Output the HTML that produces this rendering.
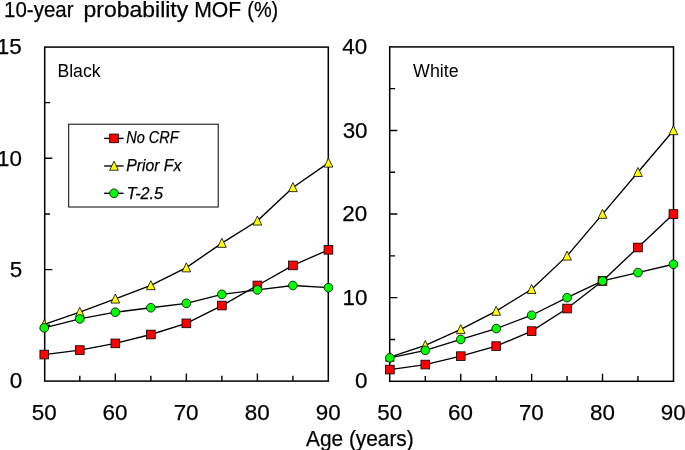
<!DOCTYPE html>
<html><head><meta charset="utf-8"><style>
html,body{margin:0;padding:0;background:#fff;width:685px;height:450px;overflow:hidden}
svg{display:block;will-change:transform}
text{font-family:"Liberation Sans", sans-serif;fill:#000;stroke:#000;stroke-width:0.25px}
</style></head><body>
<svg width="685" height="450" viewBox="0 0 685 450">
<rect x="44.7" y="47.1" width="283.6" height="334" fill="none" stroke="#000" stroke-width="1.5"/>
<path d="M44.7 325.29h5.4M44.7 269.63h7.6M44.7 213.97h5.4M44.7 158.32h7.6M44.7 102.66h5.4M79.8 381.1v-5.4M115.32 381.1v-7.6M150.84 381.1v-5.4M186.36 381.1v-7.6M221.88 381.1v-5.4M257.4 381.1v-7.6M292.92 381.1v-5.4" stroke="#000" stroke-width="1.4" fill="none"/>
<polyline points="44.28,354.56 79.8,350.1 115.32,343.41 150.84,334.5 186.36,323.35 221.88,305.53 257.4,285.47 292.92,265.41 328.44,249.81" fill="none" stroke="#000" stroke-width="1.35"/>
<polyline points="44.28,324.47 79.8,312.21 115.32,298.84 150.84,285.47 186.36,267.64 221.88,243.12 257.4,220.84 292.92,187.41 328.44,162.89" fill="none" stroke="#000" stroke-width="1.35"/>
<polyline points="44.28,327.81 79.8,318.9 115.32,312.21 150.84,307.75 186.36,303.3 221.88,294.38 257.4,289.92 292.92,285.47 328.44,287.7" fill="none" stroke="#000" stroke-width="1.35"/>
<rect x="39.93" y="350.21" width="8.7" height="8.7" fill="#ff0000" stroke="#000" stroke-width="0.8"/>
<rect x="75.45" y="345.75" width="8.7" height="8.7" fill="#ff0000" stroke="#000" stroke-width="0.8"/>
<rect x="110.97" y="339.06" width="8.7" height="8.7" fill="#ff0000" stroke="#000" stroke-width="0.8"/>
<rect x="146.49" y="330.15" width="8.7" height="8.7" fill="#ff0000" stroke="#000" stroke-width="0.8"/>
<rect x="182.01" y="319" width="8.7" height="8.7" fill="#ff0000" stroke="#000" stroke-width="0.8"/>
<rect x="217.53" y="301.18" width="8.7" height="8.7" fill="#ff0000" stroke="#000" stroke-width="0.8"/>
<rect x="253.05" y="281.12" width="8.7" height="8.7" fill="#ff0000" stroke="#000" stroke-width="0.8"/>
<rect x="288.57" y="261.06" width="8.7" height="8.7" fill="#ff0000" stroke="#000" stroke-width="0.8"/>
<rect x="324.09" y="245.46" width="8.7" height="8.7" fill="#ff0000" stroke="#000" stroke-width="0.8"/>
<path d="M44.28 319.64L48.63 328.69L39.93 328.69Z" fill="#ffff00" stroke="#000" stroke-width="0.8" stroke-linejoin="miter"/>
<path d="M79.8 307.39L84.15 316.44L75.45 316.44Z" fill="#ffff00" stroke="#000" stroke-width="0.8" stroke-linejoin="miter"/>
<path d="M115.32 294.02L119.67 303.06L110.97 303.06Z" fill="#ffff00" stroke="#000" stroke-width="0.8" stroke-linejoin="miter"/>
<path d="M150.84 280.64L155.19 289.69L146.49 289.69Z" fill="#ffff00" stroke="#000" stroke-width="0.8" stroke-linejoin="miter"/>
<path d="M186.36 262.81L190.71 271.86L182.01 271.86Z" fill="#ffff00" stroke="#000" stroke-width="0.8" stroke-linejoin="miter"/>
<path d="M221.88 238.3L226.23 247.35L217.53 247.35Z" fill="#ffff00" stroke="#000" stroke-width="0.8" stroke-linejoin="miter"/>
<path d="M257.4 216.01L261.75 225.06L253.05 225.06Z" fill="#ffff00" stroke="#000" stroke-width="0.8" stroke-linejoin="miter"/>
<path d="M292.92 182.58L297.27 191.63L288.57 191.63Z" fill="#ffff00" stroke="#000" stroke-width="0.8" stroke-linejoin="miter"/>
<path d="M328.44 158.07L332.79 167.11L324.09 167.11Z" fill="#ffff00" stroke="#000" stroke-width="0.8" stroke-linejoin="miter"/>
<circle cx="44.28" cy="327.81" r="4.35" fill="#00ff00" stroke="#000" stroke-width="0.8"/>
<circle cx="79.8" cy="318.9" r="4.35" fill="#00ff00" stroke="#000" stroke-width="0.8"/>
<circle cx="115.32" cy="312.21" r="4.35" fill="#00ff00" stroke="#000" stroke-width="0.8"/>
<circle cx="150.84" cy="307.75" r="4.35" fill="#00ff00" stroke="#000" stroke-width="0.8"/>
<circle cx="186.36" cy="303.3" r="4.35" fill="#00ff00" stroke="#000" stroke-width="0.8"/>
<circle cx="221.88" cy="294.38" r="4.35" fill="#00ff00" stroke="#000" stroke-width="0.8"/>
<circle cx="257.4" cy="289.92" r="4.35" fill="#00ff00" stroke="#000" stroke-width="0.8"/>
<circle cx="292.92" cy="285.47" r="4.35" fill="#00ff00" stroke="#000" stroke-width="0.8"/>
<circle cx="328.44" cy="287.7" r="4.35" fill="#00ff00" stroke="#000" stroke-width="0.8"/>
<rect x="389.7" y="46.9" width="283.8" height="334.4" fill="none" stroke="#000" stroke-width="1.5"/>
<path d="M389.7 339.47h5.4M389.7 297.67h7.6M389.7 255.87h5.4M389.7 214.07h7.6M389.7 172.27h5.4M389.7 130.47h7.6M389.7 88.67h5.4M425.3 381.3v-5.4M460.75 381.3v-7.6M496.19 381.3v-5.4M531.63 381.3v-7.6M567.07 381.3v-5.4M602.51 381.3v-7.6M637.96 381.3v-5.4" stroke="#000" stroke-width="1.4" fill="none"/>
<polyline points="389.86,369.57 425.3,364.55 460.75,356.19 496.19,346.16 531.63,331.11 567.07,308.54 602.51,280.95 637.96,247.51 673.4,214.07" fill="none" stroke="#000" stroke-width="1.35"/>
<polyline points="389.86,357.03 425.3,345.32 460.75,329.44 496.19,311.05 531.63,289.31 567.07,255.87 602.51,214.07 637.96,172.27 673.4,130.47" fill="none" stroke="#000" stroke-width="1.35"/>
<polyline points="389.86,357.86 425.3,350.34 460.75,339.47 496.19,328.6 531.63,315.23 567.07,297.67 602.51,280.95 637.96,272.59 673.4,264.23" fill="none" stroke="#000" stroke-width="1.35"/>
<rect x="385.51" y="365.22" width="8.7" height="8.7" fill="#ff0000" stroke="#000" stroke-width="0.8"/>
<rect x="420.95" y="360.2" width="8.7" height="8.7" fill="#ff0000" stroke="#000" stroke-width="0.8"/>
<rect x="456.39" y="351.84" width="8.7" height="8.7" fill="#ff0000" stroke="#000" stroke-width="0.8"/>
<rect x="491.84" y="341.81" width="8.7" height="8.7" fill="#ff0000" stroke="#000" stroke-width="0.8"/>
<rect x="527.28" y="326.76" width="8.7" height="8.7" fill="#ff0000" stroke="#000" stroke-width="0.8"/>
<rect x="562.72" y="304.19" width="8.7" height="8.7" fill="#ff0000" stroke="#000" stroke-width="0.8"/>
<rect x="598.16" y="276.6" width="8.7" height="8.7" fill="#ff0000" stroke="#000" stroke-width="0.8"/>
<rect x="633.61" y="243.16" width="8.7" height="8.7" fill="#ff0000" stroke="#000" stroke-width="0.8"/>
<rect x="669.05" y="209.72" width="8.7" height="8.7" fill="#ff0000" stroke="#000" stroke-width="0.8"/>
<path d="M389.86 352.2L394.21 361.25L385.51 361.25Z" fill="#ffff00" stroke="#000" stroke-width="0.8" stroke-linejoin="miter"/>
<path d="M425.3 340.5L429.65 349.55L420.95 349.55Z" fill="#ffff00" stroke="#000" stroke-width="0.8" stroke-linejoin="miter"/>
<path d="M460.75 324.61L465.1 333.66L456.39 333.66Z" fill="#ffff00" stroke="#000" stroke-width="0.8" stroke-linejoin="miter"/>
<path d="M496.19 306.22L500.54 315.27L491.84 315.27Z" fill="#ffff00" stroke="#000" stroke-width="0.8" stroke-linejoin="miter"/>
<path d="M531.63 284.49L535.98 293.53L527.28 293.53Z" fill="#ffff00" stroke="#000" stroke-width="0.8" stroke-linejoin="miter"/>
<path d="M567.07 251.05L571.42 260.09L562.72 260.09Z" fill="#ffff00" stroke="#000" stroke-width="0.8" stroke-linejoin="miter"/>
<path d="M602.51 209.25L606.87 218.29L598.16 218.29Z" fill="#ffff00" stroke="#000" stroke-width="0.8" stroke-linejoin="miter"/>
<path d="M637.96 167.45L642.31 176.49L633.61 176.49Z" fill="#ffff00" stroke="#000" stroke-width="0.8" stroke-linejoin="miter"/>
<path d="M673.4 125.65L677.75 134.69L669.05 134.69Z" fill="#ffff00" stroke="#000" stroke-width="0.8" stroke-linejoin="miter"/>
<circle cx="389.86" cy="357.86" r="4.35" fill="#00ff00" stroke="#000" stroke-width="0.8"/>
<circle cx="425.3" cy="350.34" r="4.35" fill="#00ff00" stroke="#000" stroke-width="0.8"/>
<circle cx="460.75" cy="339.47" r="4.35" fill="#00ff00" stroke="#000" stroke-width="0.8"/>
<circle cx="496.19" cy="328.6" r="4.35" fill="#00ff00" stroke="#000" stroke-width="0.8"/>
<circle cx="531.63" cy="315.23" r="4.35" fill="#00ff00" stroke="#000" stroke-width="0.8"/>
<circle cx="567.07" cy="297.67" r="4.35" fill="#00ff00" stroke="#000" stroke-width="0.8"/>
<circle cx="602.51" cy="280.95" r="4.35" fill="#00ff00" stroke="#000" stroke-width="0.8"/>
<circle cx="637.96" cy="272.59" r="4.35" fill="#00ff00" stroke="#000" stroke-width="0.8"/>
<circle cx="673.4" cy="264.23" r="4.35" fill="#00ff00" stroke="#000" stroke-width="0.8"/>
<text x="4.12" y="16.8" font-size="22.2" text-anchor="start" textLength="69.38" lengthAdjust="spacingAndGlyphs">10-year</text>
<text x="83.57" y="16.8" font-size="22.2" text-anchor="start" textLength="104.63" lengthAdjust="spacingAndGlyphs">probability</text>
<text x="194.15" y="16.8" font-size="22.2" text-anchor="start" textLength="47.05" lengthAdjust="spacingAndGlyphs">MOF</text>
<text x="247.27" y="16.8" font-size="22.2" text-anchor="start" textLength="30.96" lengthAdjust="spacingAndGlyphs">(%)</text>
<text x="306.1" y="445.6" font-size="22.2" text-anchor="start" textLength="107.58" lengthAdjust="spacingAndGlyphs">Age (years)</text>
<text x="57.42" y="76.6" font-size="17.6" text-anchor="start" textLength="43.1" lengthAdjust="spacingAndGlyphs" style="stroke-width:0">Black</text>
<text x="413.1" y="76.6" font-size="17.6" text-anchor="start" textLength="45.62" lengthAdjust="spacingAndGlyphs" style="stroke-width:0">White</text>
<text x="21.71" y="53.6" font-size="22.4" text-anchor="end">15</text>
<text x="21.86" y="165.5" font-size="22.4" text-anchor="end">10</text>
<text x="22.21" y="276.8" font-size="22.4" text-anchor="end">5</text>
<text x="22.16" y="388.2" font-size="22.4" text-anchor="end">0</text>
<text x="367.26" y="53.6" font-size="22.4" text-anchor="end">40</text>
<text x="367.56" y="137.5" font-size="22.4" text-anchor="end">30</text>
<text x="367.26" y="220.9" font-size="22.4" text-anchor="end">20</text>
<text x="367.36" y="304.5" font-size="22.4" text-anchor="end">10</text>
<text x="367.46" y="388.2" font-size="22.4" text-anchor="end">0</text>
<text x="31.75" y="419.6" font-size="22.4" text-anchor="start">50</text>
<text x="102.62" y="419.6" font-size="22.4" text-anchor="start">60</text>
<text x="173.66" y="419.6" font-size="22.4" text-anchor="start">70</text>
<text x="244.87" y="419.6" font-size="22.4" text-anchor="start">80</text>
<text x="315.74" y="419.6" font-size="22.4" text-anchor="start">90</text>
<text x="377.33" y="419.6" font-size="22.4" text-anchor="start">50</text>
<text x="448.04" y="419.6" font-size="22.4" text-anchor="start">60</text>
<text x="518.93" y="419.6" font-size="22.4" text-anchor="start">70</text>
<text x="589.99" y="419.6" font-size="22.4" text-anchor="start">80</text>
<text x="660.7" y="419.6" font-size="22.4" text-anchor="start">90</text>
<rect x="68.7" y="124.2" width="149.5" height="82.8" fill="#fff" stroke="#000" stroke-width="1"/>
<path d="M104.1 138.4H123.6" stroke="#000" stroke-width="1.35"/>
<rect x="109.65" y="134.05" width="8.7" height="8.7" fill="#ff0000" stroke="#000" stroke-width="0.8"/>
<text x="126.27" y="143" font-size="16.2" text-anchor="start" font-style="italic" textLength="52.34" lengthAdjust="spacingAndGlyphs">No CRF</text>
<path d="M104.1 166H123.6" stroke="#000" stroke-width="1.35"/>
<path d="M114 161.18L118.35 170.22L109.65 170.22Z" fill="#ffff00" stroke="#000" stroke-width="0.8" stroke-linejoin="miter"/>
<text x="126.25" y="170.5" font-size="16.2" text-anchor="start" font-style="italic" textLength="55.05" lengthAdjust="spacingAndGlyphs">Prior Fx</text>
<path d="M104.1 193.3H123.6" stroke="#000" stroke-width="1.35"/>
<circle cx="114" cy="193.3" r="4.35" fill="#00ff00" stroke="#000" stroke-width="0.8"/>
<text x="126.74" y="198.6" font-size="16.2" text-anchor="start" font-style="italic" textLength="36.26" lengthAdjust="spacingAndGlyphs">T-2.5</text>
</svg>
</body></html>
